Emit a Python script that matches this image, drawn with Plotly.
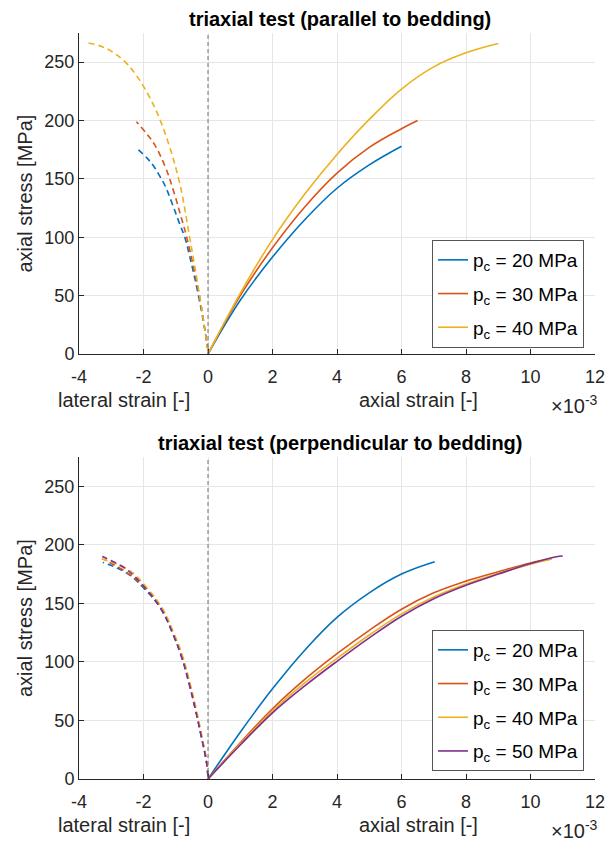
import plotly.graph_objects as go

# ---------------- data (strain in units of 1e-3, stress in MPa) ----------------
# parallel to bedding - axial strain
par20_ax_x = [0, 1, 2, 3, 4, 5, 6.0]
par20_ax_y = [0, 46, 83, 115, 142, 162, 178]
par30_ax_x = [0, 1, 2, 3, 4, 5, 6, 6.5]
par30_ax_y = [0, 50, 91, 126, 155, 177, 193, 200]
par40_ax_x = [0, 1, 2, 3, 4, 5, 6, 7, 8, 9]
par40_ax_y = [0, 52, 98, 137, 171, 201, 227, 246, 258, 266]
# parallel to bedding - lateral strain
par20_lat_x = [0, -0.1, -0.31, -0.57, -0.72, -0.9, -1.1, -1.32, -1.5, -1.68, -1.89, -2.2]
par20_lat_y = [3, 21, 52, 84, 100, 113, 128, 143.5, 152.6, 160.7, 167.8, 176]
par30_lat_x = [0, -0.05, -0.26, -0.66, -0.83, -1.05, -1.32, -1.67, -1.91, -2.22]
par30_lat_y = [3, 12, 49, 100, 117, 138, 160, 180, 189, 199]
par40_lat_x = [0, -0.05, -0.26, -0.57, -0.91, -1.45, -1.87, -2.27, -2.58, -2.95, -3.3, -3.72]
par40_lat_y = [3, 12, 50, 100, 150, 198, 223, 240.5, 250.5, 258.5, 263.5, 266.5]

# perpendicular to bedding - axial strain
per20_ax_x = [0, 1, 2, 3, 4, 5, 6, 7.03]
per20_ax_y = [0, 40, 77, 110, 138, 159, 175, 185.5]
per30_ax_x = [0, 1, 2, 3, 4, 5, 6, 7, 8, 9, 10, 10.65]
per30_ax_y = [0, 31, 60, 85, 107, 127, 145, 159, 169, 177, 184.5, 188]
per40_ax_x = [0, 1, 2, 3, 4, 5, 6, 7, 8, 9, 10, 10.65]
per40_ax_y = [0, 30, 58, 82, 103, 123, 141, 155.5, 166.5, 175.5, 183.5, 188]
per50_ax_x = [0, 1, 2, 3, 4, 5, 6, 7, 8, 9, 10, 10.8, 11.0]
per50_ax_y = [0, 29, 56.5, 79.5, 100.5, 120.5, 139, 154, 165.5, 175, 184, 189.8, 190.5]
# perpendicular to bedding - lateral strain
per20_lat_x = [0, -0.05, -0.21, -0.38, -0.59, -0.81, -1.09, -1.45, -1.96, -2.53, -3.26]
per20_lat_y = [2, 15, 36.5, 58, 82, 103.5, 124, 145, 162, 176, 185]
per30_lat_x = [0, -0.05, -0.2, -0.37, -0.58, -0.79, -1.07, -1.43, -1.95, -2.55, -3.2]
per30_lat_y = [2, 15, 36.5, 58, 82, 103.5, 124, 145, 163, 177, 187]
per40_lat_x = [0, -0.04, -0.19, -0.35, -0.56, -0.77, -1.05, -1.40, -1.90, -2.48, -3.3]
per40_lat_y = [2, 15, 36.5, 58, 82, 103.5, 124, 145, 163.5, 179, 188]
per50_lat_x = [0, -0.05, -0.21, -0.38, -0.59, -0.81, -1.09, -1.45, -1.96, -2.53, -3.28]
per50_lat_y = [2, 15, 36.5, 58, 82, 103.5, 124, 145, 163.5, 179, 190]

legend_labels = ["p<sub>c</sub> = 20 MPa", "p<sub>c</sub> = 30 MPa",
                 "p<sub>c</sub> = 40 MPa", "p<sub>c</sub> = 50 MPa"]
x_ticks = [-4, -2, 0, 2, 4, 6, 8, 10, 12]
x_ticktext = ["-4", "-2", "0", "2", "4", "6", "8", "10", "12"]
y_ticks = [0, 50, 100, 150, 200, 250]
titles = ["triaxial test (parallel to bedding)", "triaxial test (perpendicular to bedding)"]

colors = ["#0072BD", "#D95319", "#EDB120", "#7E2F8E"]
FONT = "Liberation Sans, Arial, Helvetica, sans-serif"
W, H = 616, 841
ML, MR, MT, MB = 79, 21, 33, 62
PW, PH = W - ML - MR, H - MT - MB


def px(x):
    return (x - ML) / PW


def py(y):
    return (H - MB - y) / PH


fig = go.Figure()

top = [(par20_ax_x, par20_ax_y, par20_lat_x, par20_lat_y),
       (par30_ax_x, par30_ax_y, par30_lat_x, par30_lat_y),
       (par40_ax_x, par40_ax_y, par40_lat_x, par40_lat_y)]
bot = [(per20_ax_x, per20_ax_y, per20_lat_x, per20_lat_y),
       (per30_ax_x, per30_ax_y, per30_lat_x, per30_lat_y),
       (per40_ax_x, per40_ax_y, per40_lat_x, per40_lat_y),
       (per50_ax_x, per50_ax_y, per50_lat_x, per50_lat_y)]

for panel, (series, xa, ya, leg) in enumerate([(top, "x", "y", "legend"), (bot, "x2", "y2", "legend2")]):
    for i, (ax_x, ax_y, lat_x, lat_y) in enumerate(series):
        fig.add_trace(go.Scatter(x=lat_x, y=lat_y, mode="lines", xaxis=xa, yaxis=ya,
                                 line=dict(color=colors[i], width=1.6, dash="6px,4px", shape="spline", smoothing=1.1),
                                 showlegend=False, hoverinfo="skip"))
    for i, (ax_x, ax_y, lat_x, lat_y) in enumerate(series):
        fig.add_trace(go.Scatter(x=ax_x, y=ax_y, mode="lines", xaxis=xa, yaxis=ya,
                                 line=dict(color=colors[i], width=1.6, shape="spline", smoothing=1.1),
                                 name=legend_labels[i], legend=leg, legendgroup=f"{panel}-{i}",
                                 showlegend=True))

axis_common = dict(showline=True, linecolor="#262626", linewidth=1, mirror=False,
                   showgrid=True, gridcolor="#e6e6e6", gridwidth=1, zeroline=False,
                   ticks="inside", ticklen=5, tickcolor="#262626",
                   tickfont=dict(family=FONT, size=18, color="#262626"))

top_dom = [py(354), 1.0]
bot_dom = [0.0, py(457)]

fig.update_layout(
    width=W, height=H, autosize=False,
    margin=dict(l=ML, r=MR, t=MT, b=MB),
    paper_bgcolor="white", plot_bgcolor="white",
    font=dict(family=FONT, color="#262626"),
    xaxis=dict(range=[-4, 12], tickvals=x_ticks, ticktext=x_ticktext, anchor="y",
               ticklabelstandoff=6, **axis_common),
    yaxis=dict(range=[0, 275], tickvals=y_ticks, domain=top_dom, anchor="x", **axis_common),
    xaxis2=dict(range=[-4, 12], tickvals=x_ticks, ticktext=x_ticktext, anchor="y2",
                ticklabelstandoff=6, **axis_common),
    yaxis2=dict(range=[0, 275], tickvals=y_ticks, domain=bot_dom, anchor="x2", **axis_common),
    legend=dict(x=px(432), y=py(240), xanchor="left", yanchor="top",
                bordercolor="#555555", borderwidth=1, bgcolor="white",
                font=dict(family=FONT, size=19, color="#000000"), tracegroupgap=6),
    legend2=dict(x=px(432), y=py(630), xanchor="left", yanchor="top",
                 bordercolor="#555555", borderwidth=1, bgcolor="white",
                 font=dict(family=FONT, size=19, color="#000000"), tracegroupgap=6),
    showlegend=True,
)

# dashed vertical line at zero strain
for xr, yr in [("x", "y domain"), ("x2", "y2 domain")]:
    fig.add_shape(type="line", xref=xr, yref=yr, x0=0, x1=0, y0=0, y1=1,
                  line=dict(color="#6e6e6e", width=1, dash="4px,3px"), layer="above")

annots = []
for k, (ax_bottom, ax_top) in enumerate([(354, 33), (779, 457)]):
    annots.append(dict(text=f"<b>{titles[k]}</b>", x=px(340), y=py(ax_top - 14), xref="paper", yref="paper",
                       showarrow=False, xanchor="center", yanchor="middle",
                       font=dict(family=FONT, size=20, color="#000000")))
    annots.append(dict(text="lateral strain [-]", x=px(124), y=py(ax_bottom + 46), xref="paper", yref="paper",
                       showarrow=False, xanchor="center", yanchor="middle",
                       font=dict(family=FONT, size=20, color="#262626")))
    annots.append(dict(text="axial strain [-]", x=px(418), y=py(ax_bottom + 46), xref="paper", yref="paper",
                       showarrow=False, xanchor="center", yanchor="middle",
                       font=dict(family=FONT, size=20, color="#262626")))
    annots.append(dict(text="×10<sup>-3</sup>", x=px(549), y=py(ax_bottom + 50), xref="paper", yref="paper",
                       showarrow=False, xanchor="left", yanchor="middle",
                       font=dict(family=FONT, size=20, color="#262626")))
    annots.append(dict(text="axial stress [MPa]", x=px(25), y=py((ax_bottom + ax_top) / 2), xref="paper", yref="paper",
                       showarrow=False, xanchor="center", yanchor="middle", textangle=-90,
                       font=dict(family=FONT, size=20, color="#262626")))
fig.update_layout(annotations=annots)

fig.write_html("out.html", config={"displayModeBar": False},
               post_script="document.body.style.margin='0';document.body.style.overflow='hidden';")
